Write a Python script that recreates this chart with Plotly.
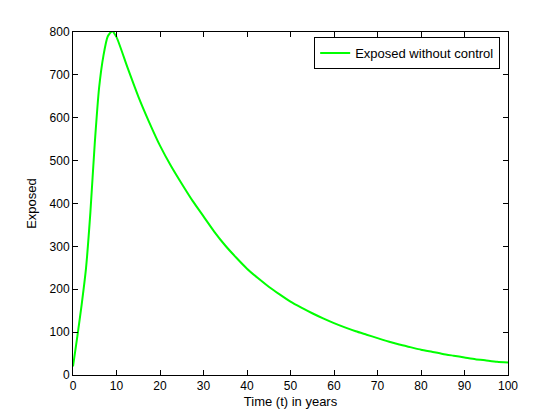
import plotly.graph_objects as go

# time (years) and exposed population
time_years = [0, 1, 2, 3, 4, 5, 6, 7, 8, 9, 10, 12.5, 15, 17.5, 20, 22.5, 25, 27.5, 30,
              32.5, 35, 37.5, 40, 42.5, 45, 47.5, 50, 52.5, 55, 57.5, 60, 62.5, 65, 67.5,
              70, 72.5, 75, 77.5, 80, 82.5, 85, 87.5, 90, 92.5, 95, 97.5, 100]
exposed = [20, 90, 165, 250, 380, 540, 670, 745, 790, 802, 788, 718, 650, 590, 535, 488,
           446, 406, 370, 334, 302, 274, 248, 226, 206, 188, 171, 157, 144, 132, 121, 111,
           102, 94, 86, 78, 71, 65, 59, 54, 49, 45, 41, 37, 34, 31, 29]

xticks = list(range(0, 101, 10))
yticks = list(range(0, 801, 100))

fig = go.Figure()

fig.add_trace(go.Scatter(
    x=time_years,
    y=exposed,
    mode='lines',
    name='Exposed without control',
    line=dict(color='#00ff00', width=2, shape='spline', smoothing=0.6),
))

axis_common = dict(
    showline=True,
    linecolor='black',
    linewidth=1,
    mirror='ticks',
    ticks='inside',
    ticklen=5,
    tickcolor='black',
    showgrid=False,
    zeroline=False,
    tickfont=dict(size=12, color='black'),
)

# page body adds an 8px offset, so the figure is a bit smaller than the window
fig.update_layout(
    width=552,
    height=412,
    paper_bgcolor='white',
    plot_bgcolor='white',
    font=dict(family='Liberation Sans, Arial, sans-serif', size=12, color='black'),
    margin=dict(l=65, r=52, t=24, b=45),
    xaxis=dict(
        range=[0, 100],
        tickvals=xticks,
        title=dict(text='Time (t) in years', standoff=4, font=dict(size=13)),
        **axis_common
    ),
    yaxis=dict(
        range=[0, 800],
        tickvals=yticks,
        title=dict(text='Exposed', standoff=10, font=dict(size=13)),
        **axis_common
    ),
    legend=dict(
        x=0.982,
        y=0.985,
        xanchor='right',
        yanchor='top',
        bordercolor='black',
        borderwidth=1,
        bgcolor='white',
        font=dict(size=13),
    ),
    showlegend=True,
)

fig.write_html("out.html")
